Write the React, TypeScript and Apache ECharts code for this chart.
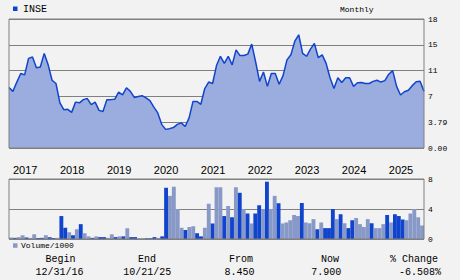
import React, { useEffect, useRef } from "react";
import * as echarts from "echarts";

// ---- data ----
const startYear = 2016;
const startMonth = 12; // first bar: Dec 2016

const price = [
  8.45, 7.9, 9.2, 10.4, 10.2, 12.5, 12.7, 11.2, 11.3, 13.2,
  11.6, 9.45, 9.0, 6.3, 5.35, 5.4, 4.97, 6.4, 6.3, 6.75,
  6.9, 6.04, 6.4, 5.25, 5.1, 6.75, 6.75, 6.8, 7.8, 7.4,
  8.4, 7.9, 7.06, 7.2, 7.3, 7.0, 6.6, 5.7, 4.9, 3.3,
  2.6, 2.7, 2.85, 3.3, 3.5, 3.0, 4.2, 6.5, 6.5, 6.1,
  8.3, 9.2, 9.0, 11.5, 12.8, 11.8, 12.8, 11.6, 13.7, 12.9,
  12.9, 13.1, 14.5, 12.0, 9.3, 10.6, 8.6, 10.4, 10.4, 8.9,
  10.1, 12.3, 13.0, 14.9, 15.8, 13.2, 12.8, 13.8, 14.6, 12.6,
  13.0, 11.8, 9.8, 8.3, 9.8, 9.15, 9.8, 9.8, 8.6, 9.1,
  9.15, 9.0, 9.0, 9.3, 9.45, 9.2, 9.4, 10.3, 10.8, 8.6,
  7.4, 7.85, 8.05, 8.7, 9.25, 9.3, 7.9,
];

const volume = [
  0.2, 0.15, 0.25, 0.5, 0.2, 0.15, 0.63, 0.15, 0.15, 0.5,
  0.25, 0.15, 0.15, 3.06, 1.5, 0.9, 0.5, 1.3, 1.98, 0.77,
  0.35, 0.15, 0.35, 0.25, 0.25, 0.15, 0.63, 0.25, 0.35, 0.35,
  1.45, 0.25, 0.25, 0.1, 0.1, 0.1, 0.1, 0.25, 0.15, 0.35,
  6.83, 5.75, 6.97, 4.0, 1.5, 1.2, 1.6, 1.7, 0.77, 0.35,
  1.5, 4.7, 2.07, 6.9, 6.9, 3.06, 4.4, 2.9, 6.9, 6.16,
  4.0, 3.4, 2.07, 3.4, 4.5, 4.0, 7.64, 4.0, 5.75, 4.77,
  2.07, 2.2, 2.5, 3.2, 3.06, 4.8, 2.2, 2.1, 2.65, 1.3,
  2.2, 1.45, 1.45, 4.0, 2.65, 3.3, 2.1, 1.45, 2.5, 2.8,
  1.98, 1.6, 2.65, 2.1, 1.45, 1.45, 1.98, 3.2, 2.2, 3.3,
  3.06, 2.6, 2.5, 3.4, 4.0, 2.9, 1.8,
];

// 1 = dark (down) bar, 0 = light bar
const volumeDark = [
  0, 1, 0, 0, 1, 0, 0, 1, 1, 0,
  1, 1, 0, 1, 1, 0, 1, 0, 1, 0,
  0, 1, 0, 1, 1, 0, 0, 1, 0, 1,
  0, 1, 1, 0, 0, 1, 1, 1, 0, 1,
  1, 0, 0, 0, 0, 1, 0, 0, 1, 1,
  0, 0, 1, 0, 0, 1, 0, 1, 0, 1,
  0, 1, 0, 1, 1, 0, 1, 0, 0, 1,
  0, 0, 0, 0, 0, 1, 0, 0, 0, 1,
  0, 1, 1, 1, 0, 1, 0, 1, 1, 0,
  0, 0, 0, 1, 0, 0, 0, 1, 0, 1,
  1, 1, 0, 0, 0, 0, 0,
];

const priceTickLabels = ["0.00", "3.79", "7", "11", "15", "18"];
const volumeTickLabels = ["0", "4", "8"];
const summaryLabels = ["Begin", "End", "From", "Now", "% Change"];
const summaryValues = ["12/31/16", "10/21/25", "8.450", "7.900", "-6.508%"];

const months: string[] = [];
for (let i = 0; i < price.length; i++) {
  const m0 = startMonth - 1 + i;
  const y = startYear + Math.floor(m0 / 12);
  const m = (m0 % 12) + 1;
  months.push(`${y}-${String(m).padStart(2, "0")}`);
}

const MONO = "'Liberation Mono', 'DejaVu Sans Mono', monospace";
const SANS = "'Liberation Sans', Arial, sans-serif";
const BG = "#f2f2f2";
const FRAME = "#808080";
const DARK = "#1144cc";
const LIGHT = "#8899c8";
const FILL = "#9badde";

const labelX = [60.5, 147, 241, 330, 414];
const valueX = [59.5, 147.3, 239.5, 326.3, 420];

export default function App() {
  const ref = useRef<HTMLDivElement>(null);
  useEffect(() => {
    if (!ref.current) return;
    const chart = echarts.init(ref.current, undefined, { renderer: "svg" });
    const texts: any[] = [];
    summaryLabels.forEach((t, i) => {
      texts.push({
        type: "text",
        x: labelX[i],
        y: 259.5,
        style: { text: t, font: `10px ${MONO}`, fill: "#000", align: "center", verticalAlign: "middle" },
      });
    });
    summaryValues.forEach((t, i) => {
      texts.push({
        type: "text",
        x: valueX[i],
        y: 272,
        style: { text: t, font: `10px ${MONO}`, fill: "#000", align: "center", verticalAlign: "middle" },
      });
    });
    chart.setOption({
      animation: false,
      backgroundColor: BG,
      grid: [
        { left: 9, right: 36, top: 19, height: 129, show: true, z: 10, borderColor: FRAME, borderWidth: 1, backgroundColor: "transparent" },
        { left: 9, right: 36, top: 179, height: 60, show: true, z: 10, borderColor: FRAME, borderWidth: 1, backgroundColor: "transparent" },
      ],
      xAxis: [
        {
          type: "category",
          gridIndex: 0,
          data: months,
          boundaryGap: false,
          axisLine: { show: false },
          axisTick: { show: false },
          splitLine: { show: false },
          axisLabel: {
            interval: (_i: number, v: string) => v.endsWith("-01"),
            formatter: (v: string) => v.slice(0, 4),
            align: "left",
            margin: 16,
            fontFamily: SANS,
            fontSize: 11,
            color: "#000",
          },
        },
        {
          type: "category",
          gridIndex: 1,
          data: months,
          boundaryGap: true,
          axisLine: { show: false },
          axisTick: { show: false },
          axisLabel: { show: false },
          splitLine: { show: false },
        },
      ],
      yAxis: [
        {
          type: "value",
          gridIndex: 0,
          position: "right",
          min: 0,
          max: 18,
          interval: 3.6,
          axisLine: { show: false },
          axisTick: { show: false },
          splitLine: { lineStyle: { color: FRAME, width: 1 } },
          axisLabel: {
            formatter: (v: number) => priceTickLabels[Math.round(v / 3.6)] ?? "",
            margin: 4,
            fontFamily: MONO,
            fontSize: 8,
            color: "#000",
            padding: [3, 0, 0, 0],
          },
        },
        {
          type: "value",
          gridIndex: 1,
          position: "right",
          min: 0,
          max: 8,
          interval: 4,
          axisLine: { show: false },
          axisTick: { show: false },
          splitLine: { lineStyle: { color: FRAME, width: 1 } },
          axisLabel: {
            formatter: (v: number) => volumeTickLabels[Math.round(v / 4)] ?? "",
            margin: 4,
            fontFamily: MONO,
            fontSize: 8,
            color: "#000",
            padding: [3, 0, 0, 0],
          },
        },
      ],
      series: [
        {
          type: "line",
          xAxisIndex: 0,
          yAxisIndex: 0,
          data: price,
          showSymbol: false,
          lineStyle: { color: DARK, width: 1.5 },
          areaStyle: { color: FILL, opacity: 1 },
          z: 3,
        },
        {
          type: "bar",
          xAxisIndex: 1,
          yAxisIndex: 1,
          data: volume.map((v, i) => ({ value: v, itemStyle: { color: volumeDark[i] ? DARK : LIGHT } })),
          barCategoryGap: "0%",
          z: 3,
        },
      ],
      graphic: [
        { type: "rect", shape: { x: 13, y: 6.5, width: 4.5, height: 4.5 }, style: { fill: DARK } },
        { type: "text", x: 23, y: 9, style: { text: "INSE", font: `10px ${MONO}`, fill: "#000", verticalAlign: "middle" } },
        { type: "text", x: 340, y: 9.3, style: { text: "Monthly", font: `8px ${MONO}`, fill: "#000", verticalAlign: "middle" } },
        { type: "rect", shape: { x: 13, y: 243.3, width: 4.5, height: 4.5 }, style: { fill: LIGHT } },
        { type: "text", x: 21, y: 245.5, style: { text: "Volume/1000", font: `8px ${MONO}`, fill: "#000", verticalAlign: "middle" } },
        ...texts,
      ],
    });
    return () => chart.dispose();
  }, []);
  return (
    <div
      ref={ref}
      style={{ position: "fixed", left: 0, top: 0, width: 460, height: 280, background: BG }}
    />
  );
}
